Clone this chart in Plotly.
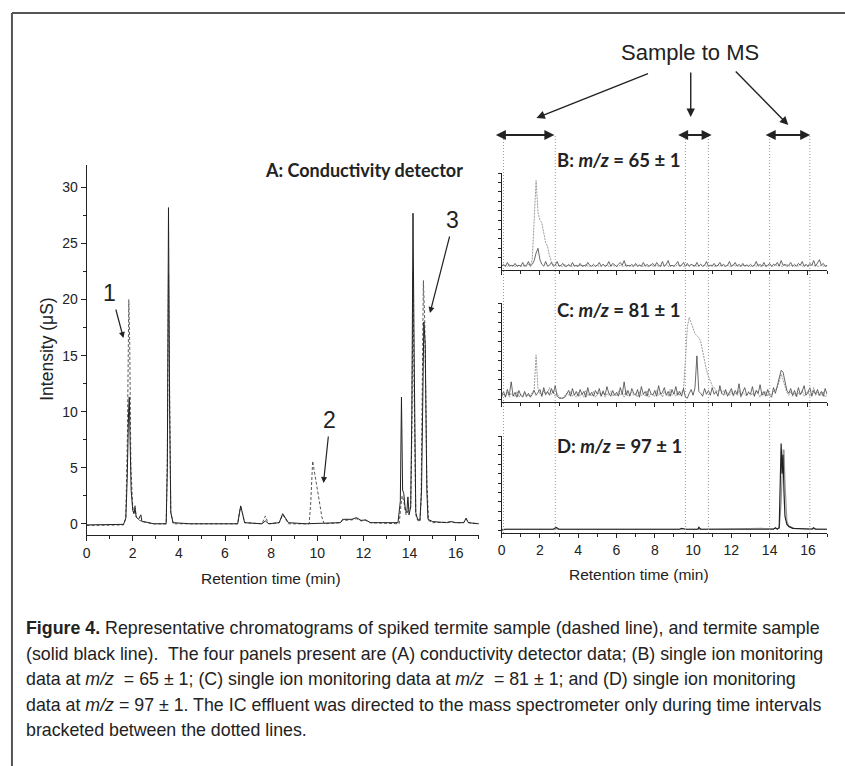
import plotly.graph_objects as go

W, H = 845, 766

# ---------------- Panel A: conductivity detector (uS vs min) ----------------
a_solid_t = [0, 1.6, 1.7, 1.76, 1.82, 1.85, 1.88, 1.93, 2.0, 2.05, 2.1, 2.15, 2.25, 2.35, 2.4, 2.6, 2.9,
             3.45, 3.5, 3.55, 3.6, 3.65, 3.75, 4.5, 6.55, 6.62, 6.68, 6.75, 6.85, 7.6, 7.75, 7.9,
             8.35, 8.5, 8.6, 8.75, 9.5, 11.0, 11.1, 11.5, 11.7, 11.9, 12.1, 12.3, 13.5, 13.6, 13.65,
             13.7, 13.75, 13.82, 13.88, 13.93, 13.98, 14.05, 14.1, 14.15, 14.2, 14.27, 14.35, 14.45,
             14.52, 14.57, 14.62, 14.68, 14.75, 14.8, 15.0, 15.6, 15.8, 16.0, 16.35, 16.45, 16.55, 17]
a_solid_y = [-0.1, -0.05, 0.5, 4, 10, 11.3, 8, 3, 1.2, 0.9, 1.4, 0.6, 0.4, 0.8, 0.2, 0.15, 0.0,
             0.0, 5, 28.2, 10, 1.0, 0.1, 0.0, 0.0, 1.0, 1.6, 1.0, 0.1, 0.0, 0.25, 0.0,
             0.1, 0.9, 0.6, 0.1, 0.0, 0.1, 0.4, 0.4, 0.55, 0.3, 0.35, 0.1, 0.1, 2, 11.3,
             3, 2.7, 1.2, 1.0, 2.4, 0.8, 1.5, 10, 27.7, 15, 1.0, 0.4, 0.3,
             3, 14, 18, 16, 3, 0.4, 0.2, 0.1, 0.2, 0.1, 0.1, 0.5, 0.1, 0.0]

a_dash_t = [0, 1.6, 1.7, 1.77, 1.83, 1.87, 1.92, 2.0, 2.05, 2.1, 2.15, 2.3, 2.6, 2.9, 3.45, 3.5, 3.55,
            3.6, 3.65, 3.75, 6.55, 6.62, 6.68, 6.75, 6.85, 7.6, 7.7, 7.75, 7.82, 7.9, 8.35, 8.5, 8.6,
            8.75, 9.65, 9.72, 9.8, 9.9, 10.05, 10.2, 10.3, 11.0, 11.1, 11.5, 11.7, 11.9, 12.1, 12.3,
            13.55, 13.62, 13.68, 13.75, 13.85, 13.95, 14.05, 14.1, 14.15, 14.2, 14.27, 14.35, 14.45,
            14.5, 14.55, 14.6, 14.66, 14.75, 14.82, 15.0, 15.8, 16.0, 16.35, 16.45, 16.55, 17]
a_dash_y = [-0.15, -0.1, 0.5, 8, 20, 16, 5, 1.5, 1.0, 1.7, 0.6, 0.3, 0.1, 0.0, 0.0, 6, 22.3,
            9, 1.0, 0.0, 0.0, 1.0, 1.5, 1.0, 0.1, 0.0, 0.5, 0.7, 0.3, 0.0, 0.1, 0.8, 0.5,
            0.0, 0.0, 2, 5.6, 4.5, 2.5, 0.6, 0.0, 0.1, 0.3, 0.35, 0.45, 0.25, 0.3, 0.1,
            0.0, 1.5, 2.5, 2.0, 0.8, 1.2, 1.5, 8, 22.5, 12, 0.8, 0.3, 0.2,
            2, 12, 21.7, 18, 4, 0.3, 0.1, 0.15, 0.1, 0.1, 0.45, 0.1, 0.0]

# ---------------- MS panels (relative intensity, sampled every 0.1 min) ----------------
ms_step = 0.1
b_solid = [1, 3, 1, 5, 1, 2, 1, 4, 1, 2,
           1, 5, 1, 2, 6, 1, 3, 7, 15, 20,
           8, 3, 1, 6, 1, 2, 5, 1, 2, 6,
           1, 2, 4, 1, 1, 3, 1, 5, 1, 2,
           1, 4, 1, 2, 1, 5, 2, 1, 3, 1,
           2, 5, 1, 3, 1, 2, 6, 1, 4, 2,
           1, 3, 5, 2, 7, 1, 2, 1, 3, 1,
           4, 1, 2, 1, 5, 1, 3, 1, 2, 4,
           1, 5, 2, 1, 6, 1, 3, 7, 1, 2,
           1, 3, 6, 1, 2, 5, 1, 4, 1, 3,
           2, 1, 5, 1, 3, 1, 2, 6, 1, 2,
           1, 4, 1, 2, 5, 1, 3, 1, 2, 6,
           1, 2, 5, 1, 3, 1, 4, 1, 2, 1,
           3, 1, 2, 6, 1, 3, 1, 5, 1, 2,
           4, 1, 3, 2, 5, 1, 7, 2, 3, 1,
           2, 5, 1, 3, 1, 4, 2, 6, 1, 3,
           1, 4, 2, 7, 1, 5, 8, 2, 4, 1, 2]
b_dash = [1, 2, 1, 1, 3, 1, 2, 1, 1, 2,
          1, 1, 2, 1, 3, 2, 8, 55, 92, 58,
          50, 47, 36, 26, 22, 12, 6, 3, 2, 1,
          2, 1, 1, 3, 1, 2, 1, 1, 2, 1,
          1, 2, 1, 1, 3, 1, 1, 2, 1, 1,
          2, 1, 1, 3, 1, 2, 1, 1, 2, 1,
          1, 1, 2, 1, 1, 3, 1, 2, 1, 1,
          2, 1, 3, 1, 1, 2, 1, 1, 3, 1,
          1, 2, 1, 1, 2, 1, 3, 1, 1, 2,
          1, 1, 3, 1, 2, 1, 1, 2, 1, 3,
          1, 2, 1, 1, 3, 1, 2, 1, 1, 2,
          2, 1, 1, 2, 1, 3, 1, 1, 2, 1,
          1, 3, 1, 2, 1, 1, 2, 1, 3, 1,
          1, 1, 2, 1, 3, 1, 1, 2, 1, 1,
          2, 1, 1, 3, 1, 2, 1, 1, 2, 3,
          1, 2, 1, 1, 2, 1, 3, 1, 1, 2,
          1, 1, 3, 1, 2, 1, 1, 2, 1, 1, 1]
c_solid = [3, 8, 2, 10, 4, 18, 3, 7, 2, 9,
           4, 2, 8, 3, 6, 2, 5, 9, 4, 7,
           10, 3, 12, 5, 8, 4, 11, 6, 14, 3,
           1, 1, 1, 2, 5, 9, 3, 11, 4, 8,
           3, 10, 5, 8, 2, 12, 4, 7, 3, 9,
           5, 11, 3, 8, 4, 13, 6, 3, 9, 4,
           7, 3, 12, 5, 18, 4, 9, 3, 11, 6,
           4, 10, 2, 13, 5, 8, 3, 11, 6, 4,
           9, 3, 14, 5, 7, 12, 4, 8, 3, 10,
           5, 13, 4, 8, 3, 11, 2, 1, 6, 10,
           4, 12, 45, 8, 6, 3, 11, 5, 9, 4,
           12, 5, 8, 3, 14, 6, 4, 10, 3, 7,
           11, 4, 9, 5, 16, 3, 8, 12, 4, 7,
           5, 13, 3, 9, 6, 15, 4, 8, 3, 10,
           4, 2, 12, 6, 14, 22, 30, 28, 18, 9,
           6, 11, 4, 9, 3, 12, 5, 8, 14, 4,
           7, 12, 3, 9, 5, 10, 4, 8, 3, 11, 5]
c_dash = [2, 5, 3, 7, 2, 6, 4, 3, 8, 2,
          5, 3, 6, 2, 4, 3, 7, 10, 46, 10,
          6, 3, 9, 4, 7, 12, 5, 8, 3, 6,
          2, 1, 1, 3, 6, 4, 8, 3, 5, 2,
          7, 3, 6, 2, 9, 4, 5, 3, 8, 2,
          4, 7, 3, 9, 2, 6, 4, 8, 3, 5,
          3, 8, 4, 6, 2, 9, 3, 5, 7, 4,
          6, 2, 8, 4, 5, 3, 9, 2, 6, 4,
          3, 9, 4, 7, 2, 8, 5, 3, 10, 4,
          6, 3, 8, 4, 7, 10, 40, 75, 85, 80,
          75, 68, 66, 64, 60, 50, 40, 30, 24, 18,
          14, 12, 9, 8, 10, 6, 9, 5, 7, 4,
          8, 3, 6, 4, 9, 2, 7, 5, 3, 8,
          4, 6, 3, 9, 5, 2, 7, 4, 8, 3,
          6, 4, 8, 9, 12, 18, 26, 20, 12, 7,
          4, 8, 3, 6, 2, 7, 4, 9, 3, 5,
          8, 3, 6, 12, 4, 7, 3, 5, 8, 2, 4]
d_solid_t = [0, 0.2, 2.7, 2.85, 3.0, 9.3, 9.4, 9.6, 10.25, 10.3, 10.4, 14.2, 14.3, 14.4, 14.5,
             14.55, 14.6, 14.65, 14.7, 14.75, 14.8, 14.9, 15.0, 15.2, 16.2, 16.3, 16.4, 17]
d_solid_y = [0, 1, 1, 3, 1, 1, 2, 1, 1, 3, 1, 1, 2.5, 1, 3,
             40, 92, 60, 80, 40, 15, 6, 4, 2, 1, 2.5, 1, 1]
d_dash_t = [0, 2.8, 2.85, 2.9, 10.3, 14.5, 14.6, 14.7, 14.75, 14.8, 14.9, 15.0, 15.3, 17]
d_dash_y = [1, 1, 2, 1, 1, 2, 30, 85, 85, 50, 10, 4, 2, 1]

# time windows when the IC effluent went to the MS (dotted lines)
ms_windows = [(0.1, 2.8), (9.6, 10.8), (14.0, 16.1)]

# ---------------- helpers ----------------
def px(x):
    return x / W

def py(y):
    return 1 - y / H

def grid(vals):
    return [round(i * ms_step, 1) for i in range(len(vals))]

INK = '#222222'
GRAY = '#9a9a9a'
FONT = 'Liberation Sans, Arial, sans-serif'
TITLEFONT = 'Lato, Open Sans, sans-serif'

fig = go.Figure()

def add(x, y, xa, ya, color, dash='solid', width=1.0):
    fig.add_trace(go.Scatter(x=x, y=y, mode='lines', xaxis=xa, yaxis=ya,
                             line=dict(color=color, width=width, dash=dash),
                             showlegend=False, hoverinfo='skip'))

add(a_dash_t, a_dash_y, 'x', 'y', '#555555', dash='3px,2px', width=1.0)
add(a_solid_t, a_solid_y, 'x', 'y', INK, width=1.0)

add(grid(b_dash), b_dash, 'x2', 'y2', GRAY, dash='2px,1px', width=1.0)
add(grid(b_solid), b_solid, 'x2', 'y2', '#444444', width=0.8)
add(grid(c_dash), c_dash, 'x3', 'y3', GRAY, dash='2px,1px', width=1.0)
add(grid(c_solid), c_solid, 'x3', 'y3', '#444444', width=0.8)
add(d_dash_t, d_dash_y, 'x4', 'y4', GRAY, width=1.2)
add(d_solid_t, d_solid_y, 'x4', 'y4', INK, width=1.2)

axis_common = dict(showline=True, linecolor=INK, linewidth=1, ticks='outside', tickcolor=INK,
                   showgrid=False, zeroline=False,
                   tickfont=dict(family=FONT, size=14, color=INK))

fig.update_layout(
    xaxis=dict(axis_common, domain=[px(83), px(477)], range=[0, 17], dtick=2, tick0=0, ticklen=5,
               minor=dict(dtick=1, ticklen=3, ticks='outside', tickcolor=INK), anchor='y'),
    yaxis=dict(axis_common, domain=[py(535), py(165)], range=[-1, 32], dtick=5, tick0=0, ticklen=5,
               minor=dict(dtick=2.5, ticklen=3, ticks='outside', tickcolor=INK), anchor='x'),
)

right_dom = [px(500), px(827)]
for i, (bot, top, labels) in zip([2, 3, 4], [(270, 173, False), (402, 303, False), (533, 436, True)]):
    fig.update_layout(**{
        f'xaxis{i}': dict(axis_common, domain=right_dom, range=[0, 17], dtick=2, tick0=0, ticklen=4,
                          showticklabels=labels, anchor=f'y{i}',
                          minor=dict(dtick=1, ticklen=3, ticks='outside', tickcolor=INK)),
        f'yaxis{i}': dict(axis_common, domain=[py(bot), py(top)], range=[-3, 100], dtick=10, tick0=0,
                          ticklen=3, showticklabels=False, anchor=f'x{i}'),
    })

shapes = []
# outer frame
shapes.append(dict(type='line', xref='paper', yref='paper', x0=px(8), x1=px(845), y0=py(13), y1=py(13),
                   line=dict(color='#555555', width=2)))
shapes.append(dict(type='line', xref='paper', yref='paper', x0=px(8), x1=px(8), y0=py(13), y1=py(766),
                   line=dict(color='#555555', width=2)))
# dotted window lines
for w in ms_windows:
    for xv in w:
        shapes.append(dict(type='line', xref='x2', yref='paper', x0=xv, x1=xv, y0=py(533), y1=py(135),
                           line=dict(color='#999999', width=1, dash='1px,2px')))

ann = []
def text(x, y, s, size, family=FONT, xanchor='center', angle=0, color=INK):
    ann.append(dict(x=px(x), y=py(y), xref='paper', yref='paper', text=s, showarrow=False,
                    xanchor=xanchor, yanchor='middle', textangle=angle,
                    font=dict(family=family, size=size, color=color)))

def arrow(tail, head, width=1.2, side='end', size=1.0):
    ann.append(dict(x=px(head[0]), y=py(head[1]), xref='paper', yref='paper',
                    ax=tail[0] - head[0], ay=tail[1] - head[1], axref='pixel', ayref='pixel',
                    text='', showarrow=True, arrowhead=2, arrowsize=size, arrowwidth=width,
                    arrowcolor=INK, arrowside=side, standoff=0, startstandoff=0))

# panel titles
text(260, 170, '<b>A: Conductivity detector</b>', 18, TITLEFONT, xanchor='left')
text(554, 160, '<b>B: <i>m/z</i> = 65 ± 1</b>', 18.5, TITLEFONT, xanchor='left')
text(554, 310, '<b>C: <i>m/z</i> = 81 ± 1</b>', 18.5, TITLEFONT, xanchor='left')
text(554, 446, '<b>D: <i>m/z</i> = 97 ± 1</b>', 18.5, TITLEFONT, xanchor='left')

# axis titles
text(43, 349, 'Intensity (μS)', 17.5, angle=-90)
text(268, 578, 'Retention time (min)', 15.5)
text(638, 574, 'Retention time (min)', 15.5)

# peak labels
text(106, 293, '1', 23)
text(327, 420, '2', 23)
text(451, 220, '3', 23)
arrow((112, 308), (120, 338))
arrow((326, 435), (321, 483))
arrow((448, 235), (428, 313))

# Sample to MS
text(689, 53, 'Sample to MS', 22)
arrow((648, 73), (535, 118), width=1.4, size=1.2)
arrow((690, 71), (690, 117), width=1.4, size=1.2)
arrow((734, 70), (788, 125), width=1.4, size=1.2)
arrow((493, 135), (553, 135), width=2, side='end+start', size=1.0)
arrow((676, 135), (711, 135), width=2, side='end+start', size=1.0)
arrow((764, 135), (810, 135), width=2, side='end+start', size=1.0)

# caption
CAP = 'Liberation Sans, Arial, sans-serif'
caption = [
    '<b>Figure 4.</b> Representative chromatograms of spiked termite sample (dashed line), and termite sample',
    '(solid black line).  The four panels present are (A) conductivity detector data; (B) single ion monitoring',
    'data at <i>m/z</i>  = 65 ± 1; (C) single ion monitoring data at <i>m/z</i>  = 81 ± 1; and (D) single ion monitoring',
    'data at <i>m/z</i> = 97 ± 1. The IC effluent was directed to the mass spectrometer only during time intervals',
    'bracketed between the dotted lines.',
]
for k, line in enumerate(caption):
    text(20, 628 + 25.5 * k, line, 17.8, CAP, xanchor='left')

fig.update_layout(width=W, height=H, autosize=False, margin=dict(l=0, r=0, t=0, b=0),
                  paper_bgcolor='white', plot_bgcolor='white', shapes=shapes, annotations=ann)

fig.write_html('out.html', config={'displayModeBar': False},
               post_script="document.body.style.margin='0';")
